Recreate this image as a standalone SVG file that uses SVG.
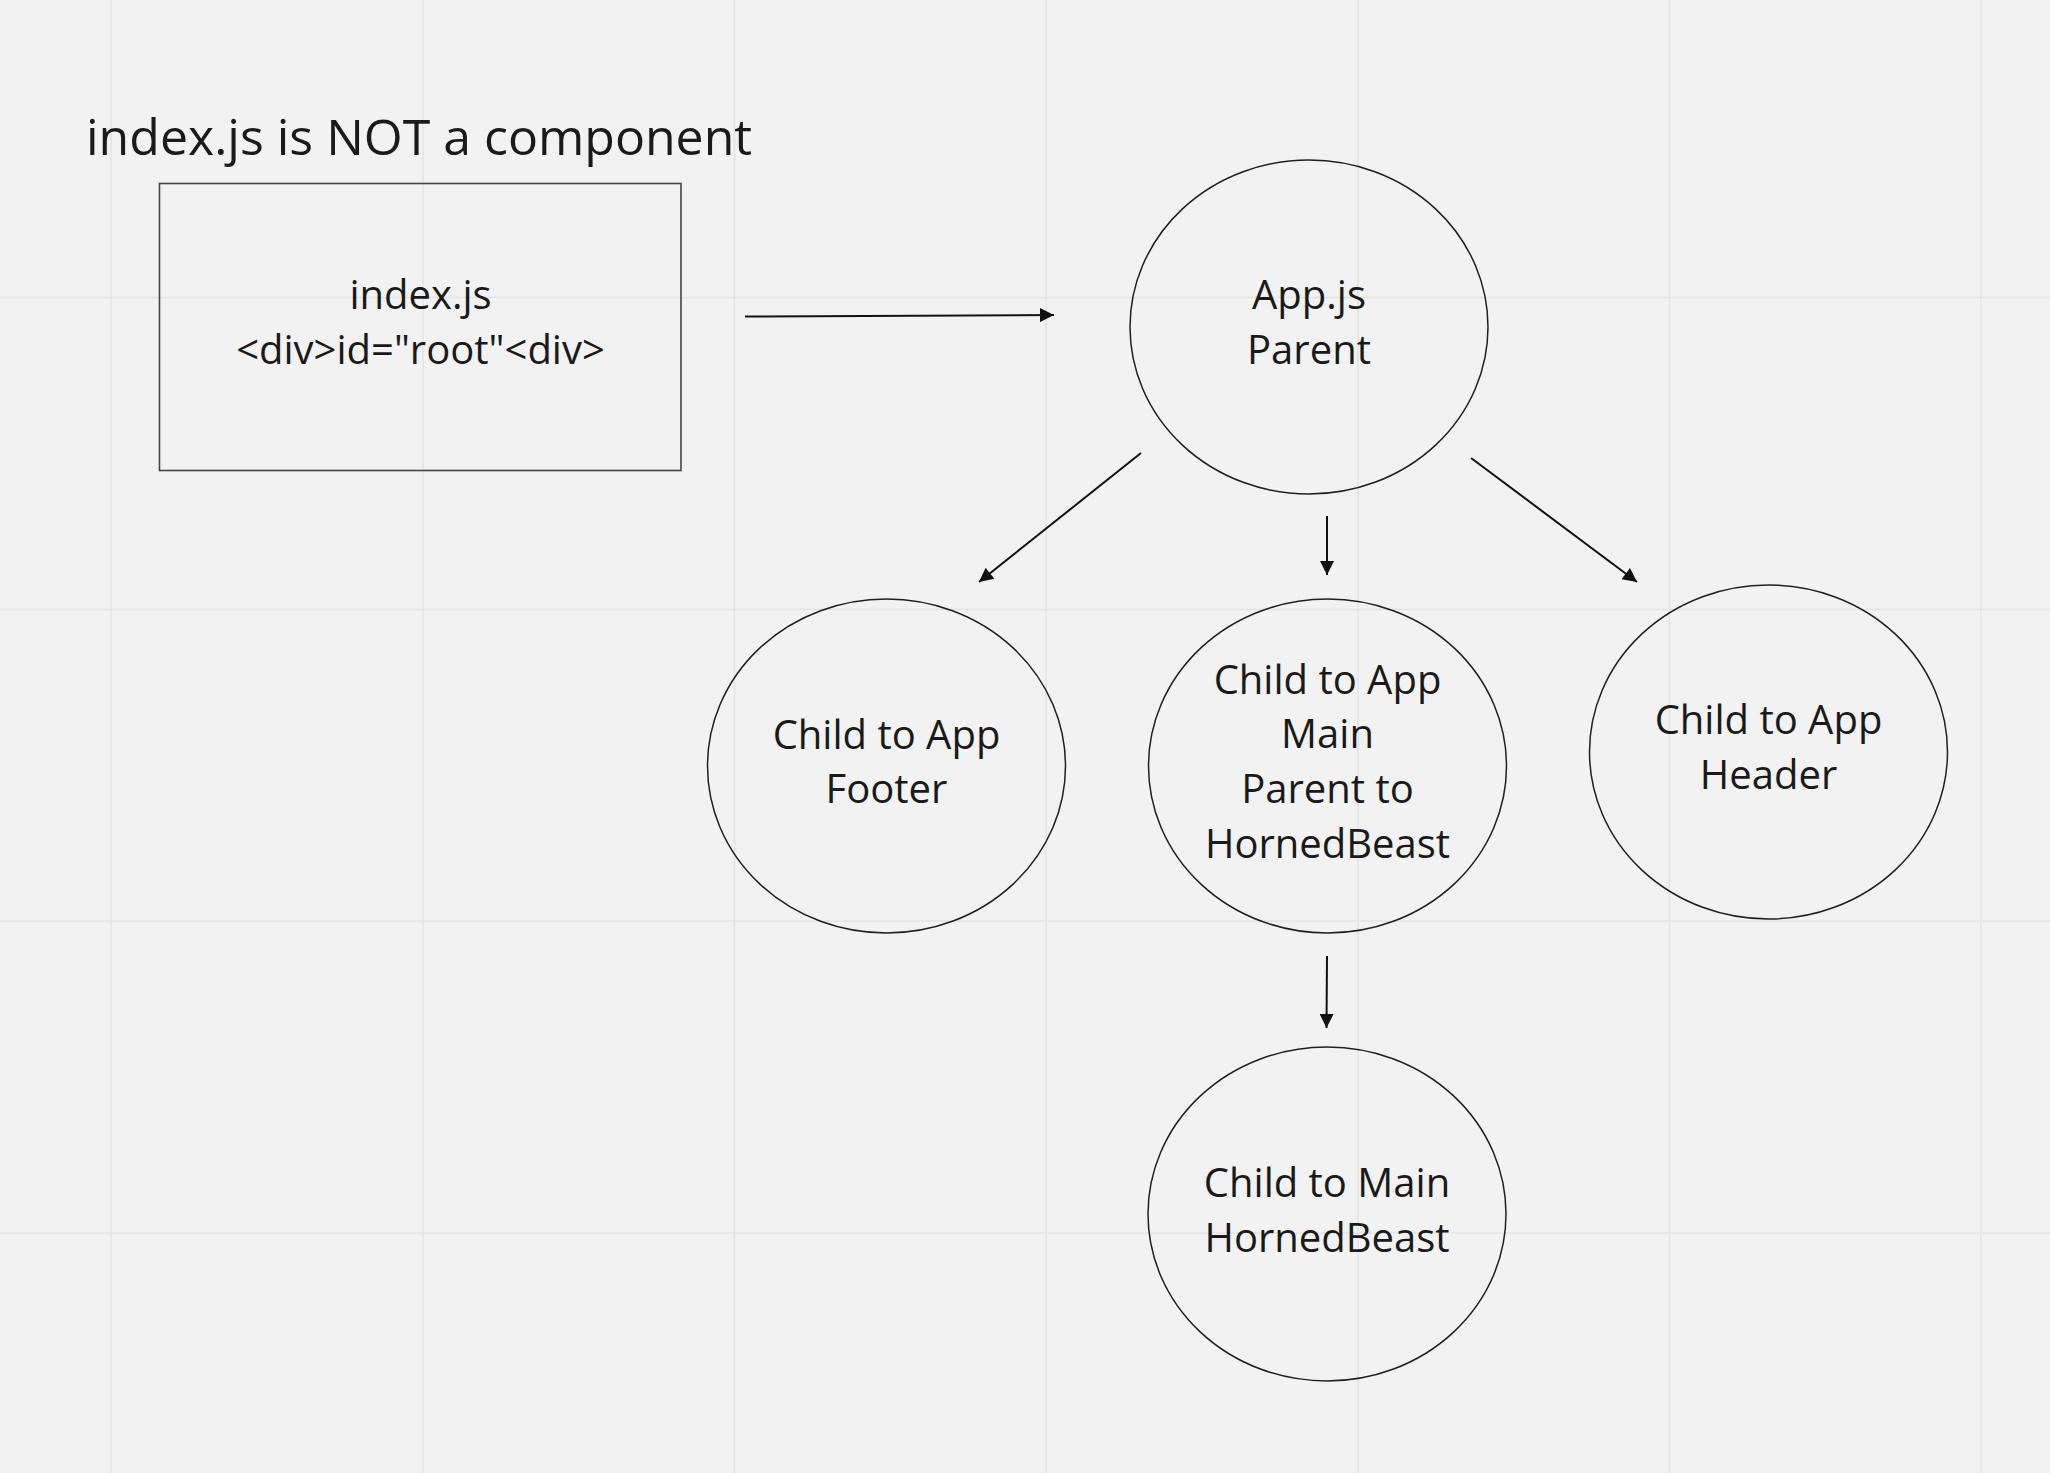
<svg xmlns="http://www.w3.org/2000/svg" width="2050" height="1473" viewBox="0 0 2050 1473">
<defs>
<style>
.grid{stroke:#e3e3e3;stroke-width:1.5;fill:none}
.shape{fill:none;stroke:#1f1f1f;stroke-width:1.5}
.box{fill:none;stroke:#444;stroke-width:1.6}
.lbl{font-family:"Open Sans","Noto Sans","Liberation Sans",sans-serif;font-size:40px;fill:#1a1a1a;text-anchor:middle}
.title{font-family:"Open Sans","Noto Sans","Liberation Sans",sans-serif;font-size:50px;fill:#1a1a1a}
.conn{stroke:#111;stroke-width:2;fill:none;marker-end:url(#ah)}
</style>
<marker id="ah" viewBox="0 0 10 10" refX="10" refY="5" markerWidth="7.5" markerHeight="7" markerUnits="strokeWidth" orient="auto">
<path d="M0,0 L10,5 L0,10 z" fill="#111"/>
</marker>
</defs>
<rect width="2050" height="1473" fill="#f2f2f2"/>
<g id="grid" class="grid">
<line x1="111" y1="0" x2="111" y2="1473"/>
<line x1="423" y1="0" x2="423" y2="1473"/>
<line x1="734.5" y1="0" x2="734.5" y2="1473"/>
<line x1="1046" y1="0" x2="1046" y2="1473"/>
<line x1="1358" y1="0" x2="1358" y2="1473"/>
<line x1="1669.5" y1="0" x2="1669.5" y2="1473"/>
<line x1="1981" y1="0" x2="1981" y2="1473"/>
<line x1="0" y1="297.5" x2="2050" y2="297.5"/>
<line x1="0" y1="609.5" x2="2050" y2="609.5"/>
<line x1="0" y1="921" x2="2050" y2="921"/>
<line x1="0" y1="1233" x2="2050" y2="1233"/>
</g>
<g id="title">
<text class="title" x="86" y="155">index.js is NOT a component</text>
</g>
<g id="index">
<rect class="box" x="159.5" y="183.5" width="521.5" height="287"/>
<text class="lbl" x="420.5" y="308.5">index.js</text>
<text class="lbl" x="420.5" y="363.5">&lt;div&gt;id="root"&lt;div&gt;</text>
</g>
<g id="app">
<ellipse class="shape" cx="1309" cy="327" rx="179" ry="167"/>
<text class="lbl" x="1309" y="308.5">App.js</text>
<text class="lbl" x="1309" y="363.5">Parent</text>
</g>
<g id="footer">
<ellipse class="shape" cx="886.5" cy="766" rx="179" ry="167"/>
<text class="lbl" x="886.5" y="748.5">Child to App</text>
<text class="lbl" x="886.5" y="803">Footer</text>
</g>
<g id="main">
<ellipse class="shape" cx="1327.5" cy="766" rx="179" ry="167"/>
<text class="lbl" x="1327.5" y="693.5">Child to App</text>
<text class="lbl" x="1327.5" y="748">Main</text>
<text class="lbl" x="1327.5" y="803">Parent to</text>
<text class="lbl" x="1327.5" y="858">HornedBeast</text>
</g>
<g id="header">
<ellipse class="shape" cx="1768.5" cy="752" rx="179" ry="167"/>
<text class="lbl" x="1768.5" y="734">Child to App</text>
<text class="lbl" x="1768.5" y="789">Header</text>
</g>
<g id="hornedbeast">
<ellipse class="shape" cx="1327" cy="1214" rx="179" ry="167"/>
<text class="lbl" x="1327" y="1197">Child to Main</text>
<text class="lbl" x="1327" y="1252">HornedBeast</text>
</g>
<g id="connectors">
<line class="conn" x1="745" y1="316.5" x2="1054" y2="315"/>
<line class="conn" x1="1141" y1="453" x2="979" y2="582"/>
<line class="conn" x1="1327" y1="516" x2="1327" y2="575"/>
<line class="conn" x1="1471" y1="458" x2="1637" y2="582"/>
<line class="conn" x1="1327" y1="956" x2="1326.5" y2="1028"/>
</g>
</svg>
